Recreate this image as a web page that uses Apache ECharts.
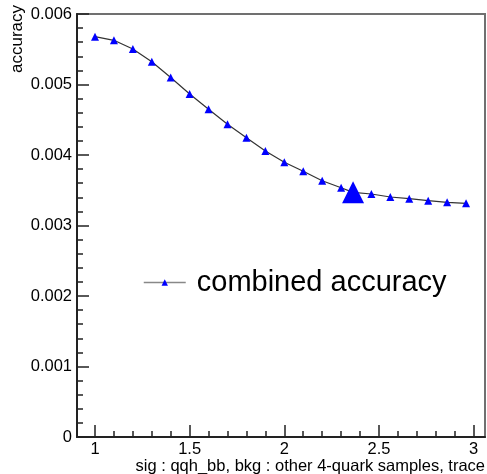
<!DOCTYPE html>
<html>
<head>
<meta charset="utf-8">
<script src="https://cdn.jsdelivr.net/npm/echarts@6/dist/echarts.min.js"></script>
<style>
  html, body { margin: 0; padding: 0; background: #fff; }
  #chart { width: 487px; height: 474px; }
</style>
</head>
<body>
<div id="chart"></div>
<script>
// Scan of the cut value vs. combined accuracy
const xValues = [1.0, 1.1, 1.2, 1.3, 1.4, 1.5, 1.6, 1.7, 1.8, 1.9, 2.0, 2.1, 2.2, 2.3, 2.363, 2.46, 2.56, 2.66, 2.76, 2.86, 2.96];
const accuracy = [0.005678, 0.005627, 0.005504, 0.005323, 0.005099, 0.004865, 0.004648, 0.004435, 0.004245, 0.004057,
                  0.003896, 0.003769, 0.003635, 0.003536, 0.003470, 0.003447, 0.003404, 0.003380, 0.003352, 0.003329, 0.003315];
// optimum working point
const bestX = [2.363];
const bestY = [0.003470];

const xMajorTicks = [1, 1.5, 2, 2.5, 3];
const xMinorTicks = [1.1, 1.2, 1.3, 1.4, 1.6, 1.7, 1.8, 1.9, 2.1, 2.2, 2.3, 2.4, 2.6, 2.7, 2.8, 2.9];
const yTickLabels = ['0', '0.001', '0.002', '0.003', '0.004', '0.005', '0.006'];

const seriesName = 'combined accuracy';
const xTitle = 'sig : qqh_bb, bkg : other 4-quark samples, trace';
const yTitle = 'accuracy';

const FONT = '"Liberation Sans", Arial, Helvetica, sans-serif';

const chart = echarts.init(document.getElementById('chart'), null, { renderer: 'canvas' });

const xRange = { min: 0.905, max: 3.06 };

chart.setOption({
  animation: false,
  backgroundColor: '#fff',
  grid: {
    left: 77, right: 2, top: 14, bottom: 37,
    show: true, borderColor: '#707070', borderWidth: 2, backgroundColor: 'transparent'
  },
  legend: {
    show: true,
    data: [seriesName],
    left: 143, top: 268, padding: 0,
    itemWidth: 42, itemHeight: 8, itemGap: 11,
    lineStyle: { color: '#888', width: 1.5 },
    textStyle: { fontFamily: FONT, fontSize: 29, color: '#000', padding: [0, 0, 0, 6] }
  },
  xAxis: [
    {
      type: 'value', min: xRange.min, max: xRange.max,
      axisLine: { show: true, onZero: false, lineStyle: { color: '#222', width: 2 } },
      axisTick: { show: true, inside: true, length: 12, customValues: xMajorTicks, lineStyle: { color: '#222', width: 1.5 } },
      axisLabel: { show: true, customValues: xMajorTicks, margin: 4, fontFamily: FONT, fontSize: 16.5, color: '#000',
                   formatter: v => String(v) },
      splitLine: { show: false }
    },
    {
      type: 'value', min: xRange.min, max: xRange.max, position: 'bottom',
      axisLine: { show: false },
      axisTick: { show: true, inside: true, length: 6, customValues: xMinorTicks, lineStyle: { color: '#222', width: 1.5 } },
      axisLabel: { show: false },
      splitLine: { show: false }
    }
  ],
  yAxis: {
    type: 'value', min: 0, max: 0.006, interval: 0.001,
    axisLine: { show: true, onZero: false, lineStyle: { color: '#222', width: 2 } },
    axisTick: { show: true, inside: true, length: 12, lineStyle: { color: '#222', width: 1.5 } },
    minorTick: { show: true, splitNumber: 5, length: 6, lineStyle: { color: '#222', width: 1.5 } },
    axisLabel: { margin: 5, fontFamily: FONT, fontSize: 16.5, color: '#000',
                 formatter: v => yTickLabels[Math.round(v / 0.001)] },
    splitLine: { show: false }
  },
  graphic: [
    {
      type: 'text', x: 17, y: 5, rotation: Math.PI / 2,
      style: { text: yTitle, font: '17px ' + FONT, fill: '#000', align: 'right', verticalAlign: 'middle' }
    },
    {
      type: 'text', x: 485, y: 466,
      style: { text: xTitle, font: '16.5px ' + FONT, fill: '#000', align: 'right', verticalAlign: 'middle' }
    }
  ],
  series: [
    {
      name: seriesName,
      type: 'line',
      data: xValues.map((x, i) => [x, accuracy[i]]),
      symbol: 'triangle', symbolSize: 8,
      itemStyle: { color: '#0000ff' },
      lineStyle: { color: '#333', width: 1.2 },
      z: 3
    },
    {
      name: 'best',
      type: 'scatter',
      data: bestX.map((x, i) => [x, bestY[i]]),
      symbol: 'triangle', symbolSize: 22,
      itemStyle: { color: '#0000ff', opacity: 1 },
      z: 4
    }
  ]
});
</script>
</body>
</html>
